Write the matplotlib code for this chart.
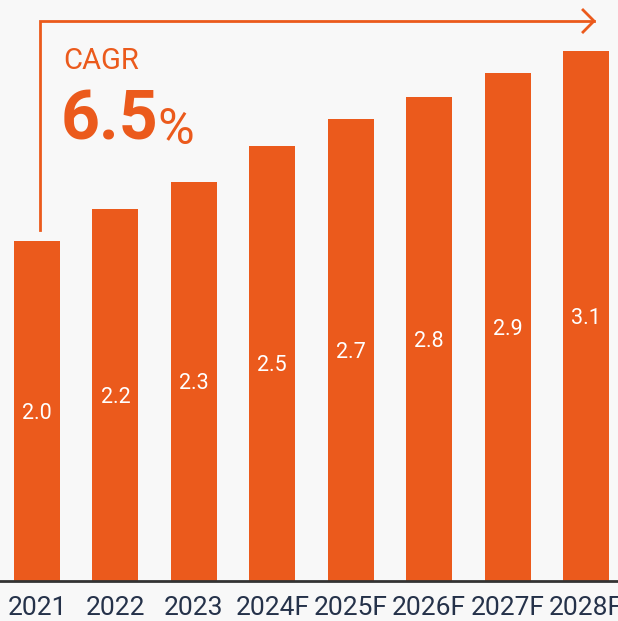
import matplotlib.pyplot as plt
from matplotlib import font_manager

ORANGE = "#EB5A1C"
NAVY = "#25324A"
BG = "#F8F8F8"

years = ["2021", "2022", "2023", "2024F", "2025F", "2026F", "2027F", "2028F"]
values = [2.00, 2.19, 2.35, 2.56, 2.72, 2.85, 2.99, 3.12]      # bar heights as drawn
labels = ["2.0", "2.2", "2.3", "2.5", "2.7", "2.8", "2.9", "3.1"]  # printed values
cagr = "6.5"

names = {f.name for f in font_manager.fontManager.ttflist}
tick_font = "Liberation Sans Narrow" if "Liberation Sans Narrow" in names else "Roboto"

fig = plt.figure(figsize=(6.18, 6.21), dpi=100, facecolor=BG)
ax = fig.add_axes([0, 40 / 621, 1, 581 / 621], facecolor=BG)

x = range(len(years))
ax.bar(x, values, width=0.587, color=ORANGE, zorder=2)
for i, (v, s) in enumerate(zip(values, labels)):
    ax.text(i, v / 2 - 0.015, s, ha="center", va="center", color="white",
            fontsize=15.5, family="Roboto")

ax.set_xlim(-0.472, 7.408)
ax.set_ylim(0, 581 / 170)
ax.set_xticks(list(x))
ax.set_xticklabels(years, family=tick_font, fontsize=19, color=NAVY)
ax.tick_params(axis="x", length=0, pad=11)
ax.set_yticks([])
for s in ["top", "right", "left"]:
    ax.spines[s].set_visible(False)
ax.spines["bottom"].set_color("#333333")
ax.spines["bottom"].set_linewidth(2)

# growth bracket with open arrowhead
bx, by0, by1, ex = 0.038, 2.065, 3.294, 7.102
ax.plot([bx, bx, ex], [by0, by1, by1], color=ORANGE, lw=2, solid_joinstyle="miter", clip_on=False)
ax.plot([ex - 0.14, ex, ex - 0.14], [by1 + 0.065, by1, by1 - 0.065], color=ORANGE, lw=2, clip_on=False)

fig.text(63 / 618, 1 - 69 / 621, "CAGR", color=ORANGE, fontsize=21,
         family="Roboto", va="baseline", ha="left")
t = fig.text(61 / 618, 1 - 140 / 621, cagr, color=ORANGE, fontsize=49,
             family="Roboto", weight="bold", va="baseline", ha="left")
ax.annotate("%", xy=(1, 0), xycoords=t, xytext=(-1, 0), textcoords="offset points",
            color=ORANGE, fontsize=36, family="Roboto", va="bottom", ha="left")

fig.savefig("out.png", dpi=100, facecolor=BG)
